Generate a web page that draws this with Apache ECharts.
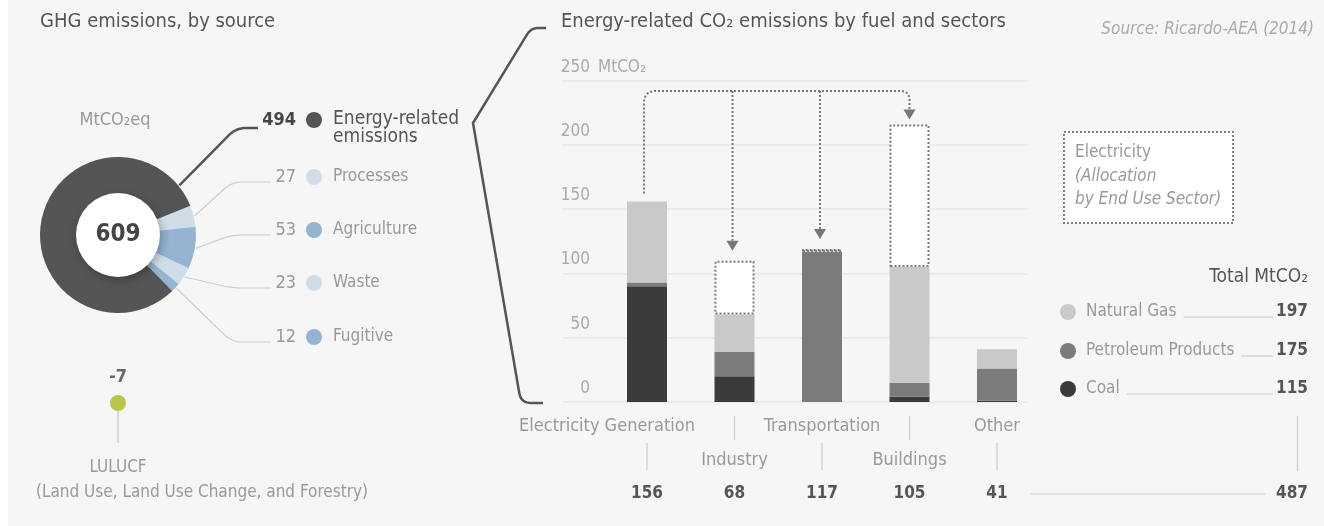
<!DOCTYPE html>
<html><head><meta charset="utf-8">
<script src="https://cdn.jsdelivr.net/npm/echarts/dist/echarts.min.js"></script>
<style>html,body{margin:0;padding:0;background:#fff}
#c{width:1324px;height:526px;background:linear-gradient(to right,#fff 0,#fff 8px,#f6f6f6 8px)}</style>
</head><body><div id="c"></div><script>
// ---------- data ----------
const ghgSources = ['Processes', 'Agriculture', 'Waste', 'Fugitive', 'Energy-related emissions'];
const ghgValues = [27, 53, 23, 12, 494];
const lulucfLabel = 'LULUCF';
const lulucfValue = -7;
const sectors = ['Electricity Generation', 'Industry', 'Transportation', 'Buildings', 'Other'];
const fuels = ['Natural Gas', 'Petroleum Products', 'Coal'];
const coal = [90, 20, 0, 4, 1];
const petroleum = [3, 19, 117, 11, 25];
const naturalGas = [63, 29, 0, 90, 15];
const electricityAllocation = [0, 42, 2, 111, 0];
const yTicks = [0, 50, 100, 150, 200, 250];

// ---------- styles ----------
const FONT = "'Liberation Sans Narrow','DejaVu Sans Condensed',sans-serif";
const ghgColors = ['#cfdde9', '#94b4d1', '#cfdde9', '#94b4d1', '#555555'];
const fuelColors = {'Natural Gas': '#c9c9c9', 'Petroleum Products': '#7b7b7b', 'Coal': '#3b3b3b'};

const chart = echarts.init(document.getElementById('c'), null, {renderer: 'canvas'});
const ghgTotal = ghgValues.reduce((a, b) => a + b, 0);
const startAngle = 22;

const barBase = {type: 'bar', xAxisIndex: 1, yAxisIndex: 1, stack: 's', barWidth: 40, silent: true};
const option = {
  animation: false,
  backgroundColor: 'transparent',
  textStyle: {fontFamily: FONT},
  grid: [
    {left: 563, top: 80.7, width: 465, height: 321.3},
    {left: 603.25, top: 80.7, width: 437.5, height: 321.3},
    {left: 108, top: 393, width: 20, height: 20}
  ],
  xAxis: [
    {gridIndex: 0, type: 'value', min: 0, max: 1, show: false},
    {gridIndex: 1, type: 'category', data: sectors, show: false},
    {gridIndex: 2, type: 'category', data: [lulucfLabel], show: false}
  ],
  yAxis: [
    {gridIndex: 0, type: 'value', min: yTicks[0], max: yTicks[yTicks.length - 1], interval: yTicks[1] - yTicks[0],
      axisLine: {show: false}, axisTick: {show: false},
      splitLine: {lineStyle: {color: '#e7e7e7', width: 1.5}},
      axisLabel: {inside: true, align: 'right', margin: 27, verticalAlign: 'bottom', padding: [0, 0, 5, 0],
        color: '#aaa', fontSize: 17, fontFamily: FONT}},
    {gridIndex: 1, type: 'value', min: 0, max: 250, show: false},
    {gridIndex: 2, type: 'value', min: -10, max: -4, show: false}
  ],
  series: [
    {...barBase, name: 'Coal', data: coal, itemStyle: {color: fuelColors['Coal']}},
    {...barBase, name: 'Petroleum Products', data: petroleum, itemStyle: {color: fuelColors['Petroleum Products']}},
    {...barBase, name: 'Natural Gas', data: naturalGas, itemStyle: {color: fuelColors['Natural Gas']}},
    {...barBase, name: 'Electricity', data: electricityAllocation.map(v => v || null),
      itemStyle: {color: '#fff', borderColor: '#7a7a7a', borderWidth: 2, borderType: 'dotted'}},
    {type: 'pie', silent: true, center: [118, 235], radius: [36, 78], startAngle: startAngle, clockwise: true,
      avoidLabelOverlap: false, label: {show: false}, labelLine: {show: false},
      data: ghgSources.map((n, i) => ({name: n, value: ghgValues[i], itemStyle: {color: ghgColors[i]}}))},
    {type: 'pie', silent: true, center: [118, 235], radius: [0, 42], z: 5,
      label: {show: true, position: 'center', formatter: String(ghgTotal), fontSize: 24, fontWeight: 'bold', color: '#444', fontFamily: FONT},
      labelLine: {show: false},
      data: [{value: 1, itemStyle: {color: '#fff', shadowBlur: 10, shadowColor: 'rgba(0,0,0,0.28)', shadowOffsetX: 2, shadowOffsetY: 3}}]},
    {type: 'scatter', xAxisIndex: 2, yAxisIndex: 2, silent: true, symbolSize: 16,
      itemStyle: {color: '#a9b81f'},
      label: {show: true, position: 'top', distance: 9, formatter: String(lulucfValue), fontSize: 18, fontWeight: 'bold', color: '#444', fontFamily: FONT},
      data: [[0, lulucfValue]]}
  ]
};
chart.setOption(option);

// ---------- annotation helpers ----------
const mctx = document.createElement('canvas').getContext('2d');
function fontStr(o) { return `${o.italic ? 'italic ' : ''}${o.weight || 'normal'} ${o.size || 17}px ${FONT}`; }
function tw(text, o) { mctx.font = fontStr(o || {}); return mctx.measureText(text).width; }
function T(text, x, y, o = {}) {
  return {type: 'text', x: x, y: y, silent: true, z: 20,
    style: {text: text, fill: o.color || '#999', font: fontStr(o),
      textAlign: o.align || 'left', textVerticalAlign: o.va || 'middle',
      align: o.align || 'left', verticalAlign: o.va || 'middle', lineHeight: o.lh}};
}
function roundPts(pts, r, seg = 8) {
  const out = [pts[0]];
  for (let i = 1; i < pts.length - 1; i++) {
    const [x0, y0] = pts[i - 1], [x1, y1] = pts[i], [x2, y2] = pts[i + 1];
    const d1 = Math.hypot(x1 - x0, y1 - y0), d2 = Math.hypot(x2 - x1, y2 - y1);
    const rad = Array.isArray(r) ? r[i - 1] : r;
    const rr = Math.min(rad, d1 / 2, d2 / 2);
    if (rr <= 0) { out.push([x1, y1]); continue; }
    const a = [x1 + (x0 - x1) / d1 * rr, y1 + (y0 - y1) / d1 * rr];
    const b = [x1 + (x2 - x1) / d2 * rr, y1 + (y2 - y1) / d2 * rr];
    for (let t = 0; t <= seg; t++) {
      const s = t / seg;
      out.push([(1 - s) * (1 - s) * a[0] + 2 * (1 - s) * s * x1 + s * s * b[0],
                (1 - s) * (1 - s) * a[1] + 2 * (1 - s) * s * y1 + s * s * b[1]]);
    }
  }
  out.push(pts[pts.length - 1]);
  return out;
}
function L(pts, color, w, o = {}) {
  return {type: 'polyline', silent: true, z: o.z || 15, shape: {points: o.r ? roundPts(pts, o.r) : pts},
    style: {stroke: color, lineWidth: w, fill: null, lineDash: o.dash || null, lineCap: o.cap || 'butt', lineJoin: o.join || 'round'}};
}
function arrowHead(x, yTip, color) {
  return {type: 'polygon', silent: true, z: 16, shape: {points: [[x, yTip], [x - 6, yTip - 10], [x + 6, yTip - 10]]}, style: {fill: color}};
}

const G = [];
// titles
G.push(T('GHG emissions, by source', 40, 22, {color: '#555', size: 20}));
G.push(T('Energy-related CO\u2082 emissions by fuel and sectors', 561, 22, {color: '#555', size: 20}));
G.push(T('Source: Ricardo-AEA (2014)', 1314, 30, {color: '#aaa', size: 17, italic: true, align: 'right'}));
G.push(T('MtCO\u2082eq', 115, 120, {color: '#999', size: 18, align: 'center'}));

// donut labels and leader lines
const cx = 118, cy = 235, R = 79;
let cum = 0; const mids = [];
ghgValues.forEach(v => { mids.push(startAngle - (cum + v / 2) / ghgTotal * 360); cum += v; });
const rowOrder = [4, 0, 1, 2, 3];
const rowY = [120, 177, 230, 283, 337];
rowOrder.forEach((idx, r) => {
  const y = rowY[r];
  const isMain = idx === 4;
  G.push(T(String(ghgValues[idx]), 296, y, {color: isMain ? '#444' : '#999', weight: isMain ? 'bold' : 'normal', size: isMain ? 18 : 18, align: 'right'}));
  G.push({type: 'circle', silent: true, z: 20, shape: {cx: 314, cy: y, r: 8}, style: {fill: ghgColors[idx]}});
  if (isMain) {
    G.push(T(ghgSources[idx].replace(' ', '\n'), 333, y - 10, {color: '#555', va: 'top', lh: 18, size: 19}));
    const a = 39 * Math.PI / 180;
    G.push(L([[cx + R * Math.cos(a), cy - R * Math.sin(a)], [236, 128], [258, 128]], '#555', 2.5, {r: 10}));
  } else {
    G.push(T(ghgSources[idx], 333, y, {color: '#999'}));
    const a = mids[idx] * Math.PI / 180;
    G.push(L([[cx + R * Math.cos(a), cy - R * Math.sin(a)], [232, y + 5], [271, y + 5]], '#ccc', 1.2, {r: 10}));
  }
});

// LULUCF
G.push(L([[118, 411], [118, 443]], '#ccc', 1.5));
G.push(T(lulucfLabel, 118, 468, {color: '#999', align: 'center'}));
G.push(T('(Land Use, Land Use Change, and Forestry)', 202, 493, {color: '#999', align: 'center'}));

// bracket
G.push(L([[546, 28], [531, 28], [473, 123], [521, 403], [543, 403]], '#555', 2.5, {r: [12, 0, 10], join: 'miter'}));

// bar chart annotations
const px = (i, v) => chart.convertToPixel({gridIndex: 1}, [i, v]);
const y250 = chart.convertToPixel({gridIndex: 0}, [0, 250])[1];
G.push(T('MtCO\u2082', 598, y250 - 13, {color: '#aaa'}));

const totals = sectors.map((s, i) => coal[i] + petroleum[i] + naturalGas[i]);
const srcIdx = 0;
const [xE, yEtop] = px(srcIdx, totals[srcIdx]);
const yTop = px(0, 242)[1];
const targets = electricityAllocation.map((v, i) => v > 0 ? i : -1).filter(i => i >= 0);
const last = targets[targets.length - 1];
const [xLast, yLastTop] = px(last, totals[last] + electricityAllocation[last]);
G.push(L([[xE - 3, yEtop - 8], [xE - 3, yTop], [xLast, yTop], [xLast, yLastTop - 15]], '#777', 2, {r: 12, dash: [2, 2]}));
G.push(arrowHead(xLast, yLastTop - 5, '#777'));
targets.slice(0, -1).forEach(i => {
  const [x, yt] = px(i, totals[i] + electricityAllocation[i]);
  G.push(L([[x - 2, yTop], [x - 2, yt - 20]], '#777', 2, {dash: [2, 2]}));
  G.push(arrowHead(x - 2, yt - 10, '#777'));
});

// category labels, ticks, totals
sectors.forEach((s, i) => {
  const x = px(i, 0)[0];
  const upper = i % 2 === 0;
  const lx = i === 0 ? x - 40 : x;
  G.push(T(s, lx, upper ? 426 : 460, {color: '#999', align: 'center', size: 18}));
  if (upper) G.push(L([[x, 443], [x, 470]], '#ccc', 1.2));
  else G.push(L([[x, 416], [x, 440]], '#ccc', 1.2));
  G.push(T(String(totals[i]), x, 494, {color: '#555', weight: 'bold', align: 'center'}));
});
const grand = totals.reduce((a, b) => a + b, 0);
G.push(L([[1030, 494], [1265, 494]], '#ccc', 1.2));
G.push(L([[1297.5, 416], [1297.5, 471]], '#ccc', 1.2));
G.push(T(String(grand), 1308, 494, {color: '#555', weight: 'bold', align: 'right'}));

// electricity legend box
G.push({type: 'rect', silent: true, z: 15, shape: {x: 1064, y: 132, width: 169, height: 91},
  style: {fill: '#fff', stroke: '#808080', lineWidth: 2, lineDash: [2, 2]}});
G.push(T('Electricity', 1075, 153, {color: '#999'}));
G.push(T('(Allocation', 1075, 177, {color: '#999', italic: true}));
G.push(T('by End Use Sector)', 1075, 200, {color: '#999', italic: true}));

// fuel legend
G.push(T('Total MtCO\u2082', 1308, 277, {color: '#555', align: 'right', size: 19}));
const fuelData = {'Natural Gas': naturalGas, 'Petroleum Products': petroleum, 'Coal': coal};
const fuelY = [312, 351, 389];
fuels.forEach((f, k) => {
  const y = fuelY[k];
  const sum = fuelData[f].reduce((a, b) => a + b, 0);
  G.push({type: 'circle', silent: true, z: 20, shape: {cx: 1068, cy: y, r: 8}, style: {fill: fuelColors[f]}});
  G.push(T(f, 1086, y, {color: '#999'}));
  G.push(L([[1086 + tw(f) + 7, y + 5], [1273, y + 5]], '#ccc', 1.2));
  G.push(T(String(sum), 1308, y, {color: '#555', weight: 'bold', align: 'right'}));
});

chart.setOption({graphic: G});
</script></body></html>
